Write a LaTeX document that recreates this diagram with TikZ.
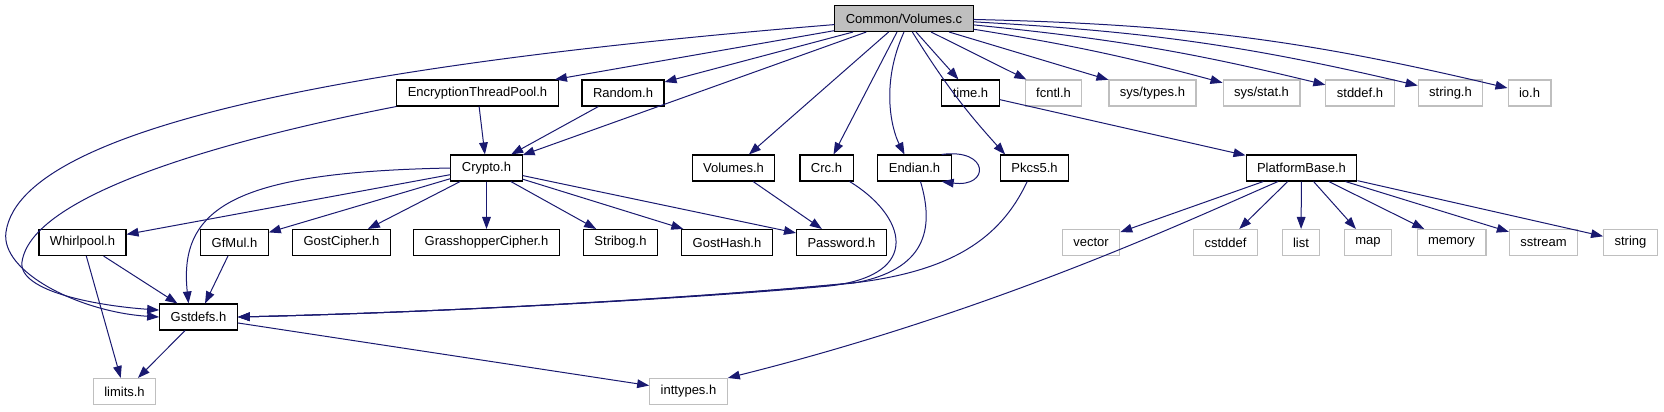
\documentclass[tikz,border=0pt]{standalone}
\usepackage{fontspec}
\setmainfont{Liberation Sans}
\usepackage{xcolor}
\definecolor{dxedge}{RGB}{25, 25, 112}
\definecolor{dxgray}{RGB}{191, 191, 191}
\usetikzlibrary{arrows.meta}
\tikzset{
    hfile/.style={draw=black, fill=white, line width=0.8pt, minimum height=19.5pt,
        inner xsep=8.25pt, inner ysep=0pt, font=\fontsize{9.75}{11}\selectfont},
    sysfile/.style={hfile, draw=dxgray},
    rootfile/.style={hfile, fill=dxgray},
    dep/.style={dxedge, line width=0.75pt, -{Triangle[length=9pt, width=6.5pt]}}
}

\begin{document}
\begin{tikzpicture}[x=0.75pt, y=-0.75pt]
    \useasboundingbox (0, 0) rectangle (1664, 411);

    % Source file
    \node[rootfile] (vc) at (904, 18.5) {Common/Volumes.c};

    % Direct includes
    \node[hfile] (etp) at (477.5, 93) {EncryptionThreadPool.h};
    \node[hfile] (rnd) at (623, 93) {Random.h};
    \node[hfile] (tim) at (970.5, 93) {time.h};
    \node[sysfile] (fcn) at (1053.5, 93) {fcntl.h};
    \node[sysfile] (stypes) at (1152.5, 93) {sys/types.h};
    \node[sysfile] (sstat) at (1261.5, 93) {sys/stat.h};
    \node[sysfile] (sdef) at (1360, 93) {stddef.h};
    \node[sysfile] (strh) at (1450.5, 93) {string.h};
    \node[sysfile] (ioh) at (1529.5, 93) {io.h};

    % Second level
    \node[hfile] (cry) at (486.5, 168) {Crypto.h};
    \node[hfile] (volh) at (733.5, 168) {Volumes.h};
    \node[hfile] (crc) at (826.5, 168) {Crc.h};
    \node[hfile] (endi) at (914.5, 168) {Endian.h};
    \node[hfile] (pkcs) at (1034.5, 168) {Pkcs5.h};
    \node[hfile] (pfb) at (1301.5, 168) {PlatformBase.h};

    % Third level
    \node[hfile] (whirl) at (82.5, 242.5) {Whirlpool.h};
    \node[hfile] (gfmul) at (234.5, 242.5) {GfMul.h};
    \node[hfile] (gost) at (341.5, 242.5) {GostCipher.h};
    \node[hfile] (grass) at (486.5, 242.5) {GrasshopperCipher.h};
    \node[hfile] (strib) at (620.5, 242.5) {Stribog.h};
    \node[hfile] (ghash) at (727, 242.5) {GostHash.h};
    \node[hfile] (pwd) at (841.5, 242.5) {Password.h};
    \node[sysfile] (vec) at (1091, 242.5) {vector};
    \node[sysfile] (cstd) at (1225.5, 242.5) {cstddef};
    \node[sysfile] (lst) at (1301, 242.5) {list};
    \node[sysfile] (mp) at (1368, 242.5) {map};
    \node[sysfile] (mem) at (1451.5, 242.5) {memory};
    \node[sysfile] (sst) at (1543.5, 242.5) {sstream};
    \node[sysfile] (strg) at (1630.5, 242.5) {string};

    % Bottom
    \node[hfile] (gst) at (198.5, 317) {Gstdefs.h};
    \node[sysfile] (lim) at (124.5, 391.5) {limits.h};
    \node[sysfile] (intt) at (688.5, 391.5) {inttypes.h};

    % Edges from the source file
    \draw[dep] (vc.185) .. controls (400, 60) and (22, 120) .. (6, 232)
        .. controls (0, 272) and (80, 312) .. (gst.west);
    \draw[dep] (vc) -- (etp);
    \draw[dep] (vc) -- (rnd);
    \draw[dep] (vc) -- (cry);
    \draw[dep] (vc) -- (volh);
    \draw[dep] (vc) -- (crc);
    \draw[dep] (vc.south) .. controls (880, 85) and (892, 130) .. ([xshift=-7.5pt]endi.north);
    \draw[dep] (vc) to[bend right=5] ([xshift=-22pt]pkcs.north);
    \draw[dep] (vc) -- (tim);
    \draw[dep] (vc) -- (fcn);
    \draw[dep] (vc) -- (stypes);
    \draw[dep] (vc) to[bend left=3] (sstat);
    \draw[dep] (vc) to[bend left=4] (sdef);
    \draw[dep] (vc) to[bend left=5] (strh);
    \draw[dep] (vc) to[bend left=6] (ioh);

    % Edges from the first level
    \draw[dep] (etp) -- (cry);
    \draw[dep] (etp.south west) .. controls (250, 135) and (32, 190) .. (22, 262)
        .. controls (18, 292) and (100, 306) .. (gst.170);
    \draw[dep] (rnd) -- (cry);
    \draw[dep] (tim) -- (pfb);

    % Edges from Crypto.h
    \draw[dep] (cry) -- (whirl);
    \draw[dep] (cry) -- (gfmul);
    \draw[dep] (cry) -- (gost);
    \draw[dep] (cry) -- (grass);
    \draw[dep] (cry) -- (strib);
    \draw[dep] (cry) -- (ghash);
    \draw[dep] (cry) -- (pwd);
    \draw[dep] (cry.west) .. controls (240, 172) and (178, 205) .. ([xshift=-7.5pt]gst.north);

    % Edges from the other second level files
    \draw[dep] (volh) -- (pwd);
    \draw[dep] ([xshift=-3pt]crc.south east) .. controls (905, 215) and (925, 275) .. (829, 286)
        .. controls (700, 298) and (450, 312) .. (gst.east);
    \draw[dep] ([xshift=4.5pt]endi.south) .. controls (935, 230) and (925, 270) .. (854, 283)
        .. controls (700, 298) and (450, 312) .. (gst.east);
    \draw[dep] ([xshift=-5.5pt]pkcs.south) .. controls (1000, 240) and (950, 270) .. (861, 282)
        .. controls (700, 298) and (450, 312) .. (gst.east);
    \draw[dep] ([xshift=-7.5pt]endi.north east) .. controls (990, 148) and (990, 188)
        .. ([xshift=-7.5pt]endi.south east);

    % Edges from PlatformBase.h
    \draw[dep] (pfb) -- (vec);
    \draw[dep] ([xshift=-17.6pt]pfb.south) .. controls (1200, 215) and (1000, 310) .. (intt.north east);
    \draw[dep] (pfb) -- (cstd);
    \draw[dep] (pfb) -- (lst);
    \draw[dep] (pfb) -- (mp);
    \draw[dep] (pfb) -- (mem);
    \draw[dep] (pfb) -- (sst);
    \draw[dep] (pfb) -- (strg);

    % Edges from the third level
    \draw[dep] (whirl) -- (gst);
    \draw[dep] (whirl) -- (lim);
    \draw[dep] (gfmul) -- (gst);
    \draw[dep] (gst) -- (lim);
    \draw[dep] (gst) -- (intt);
\end{tikzpicture}
\end{document}
